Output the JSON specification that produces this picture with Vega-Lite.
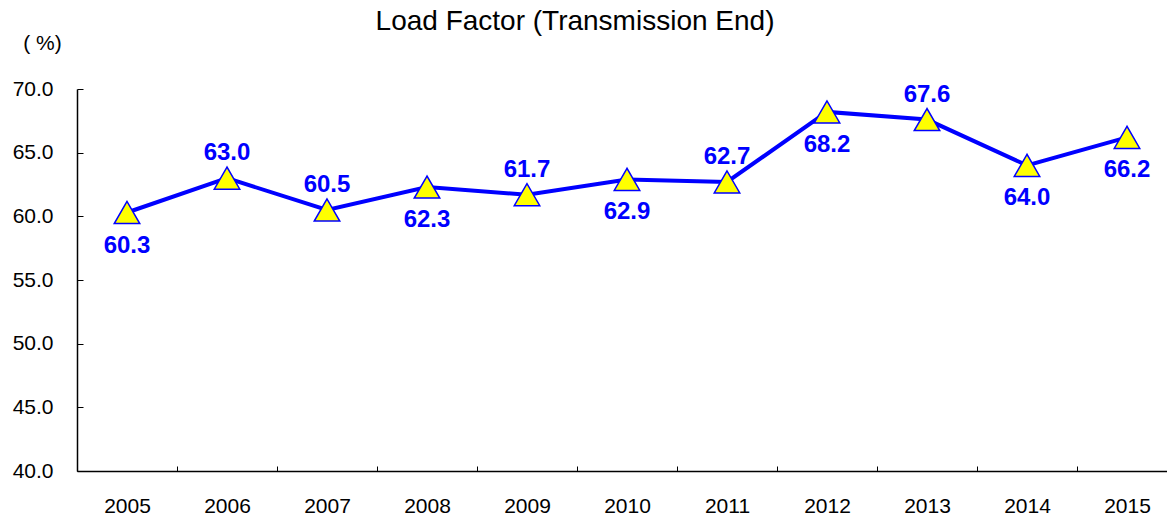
{
  "$schema": "https://vega.github.io/schema/vega-lite/v6.json",
  "width": 1100,
  "height": 382,
  "autosize": "none",
  "padding": {"left": 77, "top": 89, "right": 0, "bottom": 47},
  "background": "white",
  "title": {
    "text": "Load Factor (Transmission End)",
    "font": "Liberation Sans",
    "fontSize": 28,
    "fontWeight": "normal",
    "color": "black",
    "anchor": "middle",
    "frame": "group",
    "dx": -52,
    "baseline": "alphabetic",
    "offset": -26
  },
  "config": {
    "view": {"stroke": null},
    "axis": {
      "labelFont": "Liberation Sans",
      "labelFontSize": 21,
      "labelColor": "black",
      "domainColor": "black",
      "domainWidth": 1.5,
      "tickColor": "black",
      "tickWidth": 1,
      "grid": false,
      "titleFont": "Liberation Sans",
      "titleColor": "black"
    }
  },
  "data": {
    "values": [
      {"year": "2005", "value": 60.3},
      {"year": "2006", "value": 63.0},
      {"year": "2007", "value": 60.5},
      {"year": "2008", "value": 62.3},
      {"year": "2009", "value": 61.7},
      {"year": "2010", "value": 62.9},
      {"year": "2011", "value": 62.7},
      {"year": "2012", "value": 68.2},
      {"year": "2013", "value": 67.6},
      {"year": "2014", "value": 64.0},
      {"year": "2015", "value": 66.2}
    ]
  },
  "encoding": {
    "x": {
      "field": "year",
      "type": "ordinal",
      "sort": null,
      "scale": {"type": "band", "paddingInner": 0, "paddingOuter": 0},
      "axis": {
        "title": null,
        "labelAngle": 0,
        "tickBand": "extent",
        "tickSize": -5,
        "labelPadding": 29
      }
    },
    "y": {
      "field": "value",
      "type": "quantitative",
      "scale": {"domain": [40, 70], "nice": false, "zero": false},
      "axis": {
        "values": [40, 45, 50, 55, 60, 65, 70],
        "format": ".1f",
        "tickSize": -6,
        "labelPadding": 30,
        "title": "( %)",
        "titleAngle": 0,
        "titleAlign": "center",
        "titleBaseline": "middle",
        "titleFontSize": 21,
        "titleFontWeight": "normal",
        "titleX": -35,
        "titleY": -46
      }
    }
  },
  "layer": [
    {"mark": {"type": "line", "color": "#0000FF", "strokeWidth": 4}},
    {
      "mark": {
        "type": "point",
        "shape": "triangle-up",
        "size": 650,
        "filled": true,
        "fill": "#FFFF00",
        "stroke": "#0000FF",
        "strokeWidth": 1.5,
        "opacity": 1
      }
    },
    {
      "transform": [{"filter": {"field": "year", "oneOf": ["2006", "2007", "2009", "2011", "2013"]}}],
      "mark": {
        "type": "text",
        "dy": -25,
        "baseline": "middle",
        "font": "Liberation Sans",
        "fontSize": 24,
        "fontWeight": "bold",
        "color": "#0000FF"
      },
      "encoding": {"text": {"field": "value", "type": "quantitative", "format": ".1f"}}
    },
    {
      "transform": [{"filter": {"field": "year", "oneOf": ["2005", "2008", "2010", "2012", "2014", "2015"]}}],
      "mark": {
        "type": "text",
        "dy": 33,
        "baseline": "middle",
        "font": "Liberation Sans",
        "fontSize": 24,
        "fontWeight": "bold",
        "color": "#0000FF"
      },
      "encoding": {"text": {"field": "value", "type": "quantitative", "format": ".1f"}}
    }
  ]
}
